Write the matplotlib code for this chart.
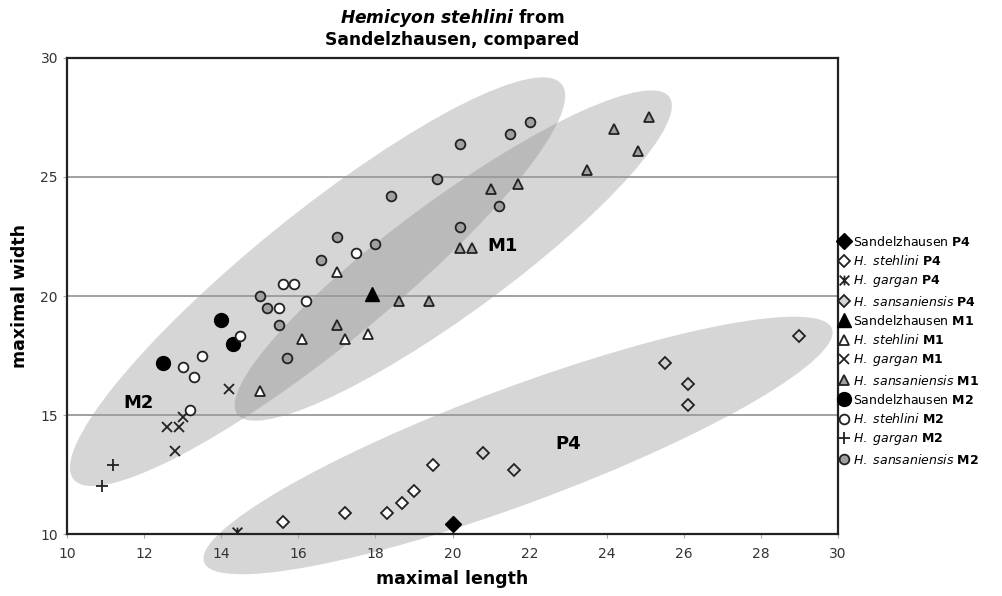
import matplotlib
matplotlib.use("Agg")
import matplotlib.pyplot as plt
from matplotlib.patches import Ellipse
from matplotlib.transforms import ScaledTranslation
from matplotlib.path import Path

# P4
sand_p4_x = [20.0]
sand_p4_y = [10.4]
steh_p4_x = [15.6, 17.2, 18.3, 18.7, 19.0, 19.5]
steh_p4_y = [10.5, 10.9, 10.9, 11.3, 11.8, 12.9]
garg_p4_x = [14.4]
garg_p4_y = [10.1]
sans_p4_x = [20.8, 21.6, 25.5, 26.1, 26.1, 29.0]
sans_p4_y = [13.4, 12.7, 17.2, 16.3, 15.4, 18.3]

# M1
sand_m1_x = [17.9]
sand_m1_y = [20.1]
steh_m1_x = [15.0, 16.1, 17.2, 17.8, 17.0]
steh_m1_y = [16.0, 18.2, 18.2, 18.4, 21.0]
garg_m1_x = [14.2, 12.6, 12.9, 12.8, 13.0]
garg_m1_y = [16.1, 14.5, 14.5, 13.5, 14.9]
sans_m1_x = [17.0, 18.6, 19.4, 20.2, 20.5, 21.0, 21.7, 23.5, 24.2, 24.8, 25.1]
sans_m1_y = [18.8, 19.8, 19.8, 22.0, 22.0, 24.5, 24.7, 25.3, 27.0, 26.1, 27.5]

# M2
sand_m2_x = [12.5, 14.0, 14.3]
sand_m2_y = [17.2, 19.0, 18.0]
steh_m2_x = [13.0, 13.3, 13.5, 13.2, 14.5, 15.6, 15.9, 15.5, 16.2, 17.5]
steh_m2_y = [17.0, 16.6, 17.5, 15.2, 18.3, 20.5, 20.5, 19.5, 19.8, 21.8]
garg_m2_x = [11.2, 10.9]
garg_m2_y = [12.9, 12.0]
sans_m2_x = [15.0, 15.2, 15.5, 15.7, 16.6, 17.0, 18.0, 18.4, 19.6, 20.2, 20.2, 21.2, 21.5, 22.0]
sans_m2_y = [20.0, 19.5, 18.8, 17.4, 21.5, 22.5, 22.2, 24.2, 24.9, 26.4, 22.9, 23.8, 26.8, 27.3]

# group outlines: centre (data), width/height (px), angle (deg)
groups = ["M2", "M1", "P4"]
group_cx = [16.5, 20.02, 21.7]
group_cy = [20.6, 21.7, 13.72]
group_w = [628, 536, 670]
group_h = [134, 114, 116]
group_ang = [39, 36.3, 20.4]
label_x = [11.85, 21.3, 23.0]
label_y = [15.5, 22.1, 13.8]

plt.rcParams['font.family'] = 'DejaVu Sans'

fig, ax = plt.subplots(figsize=(10.03, 5.96), dpi=100)
fig.subplots_adjust(left=0.0668, right=0.8355, bottom=0.104, top=0.9027)

ax.set_xlim(10, 30)
ax.set_ylim(10, 30)

for cx, cy, w, h, a in zip(group_cx, group_cy, group_w, group_h, group_ang):
    tr = fig.dpi_scale_trans + ScaledTranslation(cx, cy, ax.transData)
    e = Ellipse((0, 0), w / 100, h / 100, angle=a, transform=tr,
                facecolor='#7a7a7a', alpha=0.3, edgecolor='none',
                zorder=1, clip_on=False)
    ax.add_patch(e)

for g, lx, ly in zip(groups, label_x, label_y):
    ax.text(lx, ly, g, fontsize=13, fontweight='bold', ha='center', va='center', zorder=4)

star = Path([(-1, -1), (1, 1), (-1, 1), (1, -1), (0, -1), (0, 1)],
            [Path.MOVETO, Path.LINETO, Path.MOVETO, Path.LINETO, Path.MOVETO, Path.LINETO])

ec = '#222222'
grey = '#a0a0a0'
series = [
    (sand_p4_x, sand_p4_y, dict(marker='D', ms=8, mfc='black', mec='black'), r"Sandelzhausen $\bf{P4}$"),
    (steh_p4_x, steh_p4_y, dict(marker='D', ms=6, mfc='white', mec=ec, mew=1.3), r"$\it{H.\ stehlini}$ $\bf{P4}$"),
    (garg_p4_x, garg_p4_y, dict(marker=star, ms=7, mfc='none', mec=ec, mew=1.3), r"$\it{H.\ gargan}$ $\bf{P4}$"),
    (sans_p4_x, sans_p4_y, dict(marker='D', ms=6, mfc='#d4d4d4', mec=ec, mew=1.3), r"$\it{H.\ sansaniensis}$ $\bf{P4}$"),
    (sand_m1_x, sand_m1_y, dict(marker='^', ms=10, mfc='black', mec='black'), r"Sandelzhausen $\bf{M1}$"),
    (steh_m1_x, steh_m1_y, dict(marker='^', ms=7, mfc='white', mec=ec, mew=1.3), r"$\it{H.\ stehlini}$ $\bf{M1}$"),
    (garg_m1_x, garg_m1_y, dict(marker='x', ms=7, mec=ec, mew=1.3), r"$\it{H.\ gargan}$ $\bf{M1}$"),
    (sans_m1_x, sans_m1_y, dict(marker='^', ms=7, mfc=grey, mec=ec, mew=1.3), r"$\it{H.\ sansaniensis}$ $\bf{M1}$"),
    (sand_m2_x, sand_m2_y, dict(marker='o', ms=10, mfc='black', mec='black'), r"Sandelzhausen $\bf{M2}$"),
    (steh_m2_x, steh_m2_y, dict(marker='o', ms=7, mfc='white', mec=ec, mew=1.3), r"$\it{H.\ stehlini}$ $\bf{M2}$"),
    (garg_m2_x, garg_m2_y, dict(marker='+', ms=8, mec=ec, mew=1.3), r"$\it{H.\ gargan}$ $\bf{M2}$"),
    (sans_m2_x, sans_m2_y, dict(marker='o', ms=7, mfc=grey, mec=ec, mew=1.3), r"$\it{H.\ sansaniensis}$ $\bf{M2}$"),
]
for xs, ys, style, lab in series:
    ax.plot(xs, ys, linestyle='none', label=lab, zorder=3, **style)

ax.set_xticks(range(10, 31, 2))
ax.set_yticks([10, 15, 20, 25, 30])
ax.yaxis.grid(True, color='#9a9a9a', linewidth=1.3)
ax.tick_params(colors='#aaaaaa', labelcolor='#333333', labelsize=10, length=3)
ax.tick_params(axis='x', pad=6)
for s in ax.spines.values():
    s.set_linewidth(1.6)
    s.set_color('#222222')

ax.set_xlabel('maximal length', fontsize=12.5, fontweight='bold', labelpad=7)
ax.set_ylabel('maximal width', fontsize=12.5, fontweight='bold', labelpad=8)
ax.set_title(r"$\mathbfit{Hemicyon\ stehlini}$ from" + "\nSandelzhausen, compared",
             fontsize=12.3, fontweight='bold', pad=9)

ax.legend(loc='center left', bbox_to_anchor=(1.0, 0.385), frameon=False,
          fontsize=9, handlelength=0.8, handletextpad=0.3, labelspacing=0.42,
          borderaxespad=0.1, borderpad=0)

fig.savefig('out.png', dpi=100)
